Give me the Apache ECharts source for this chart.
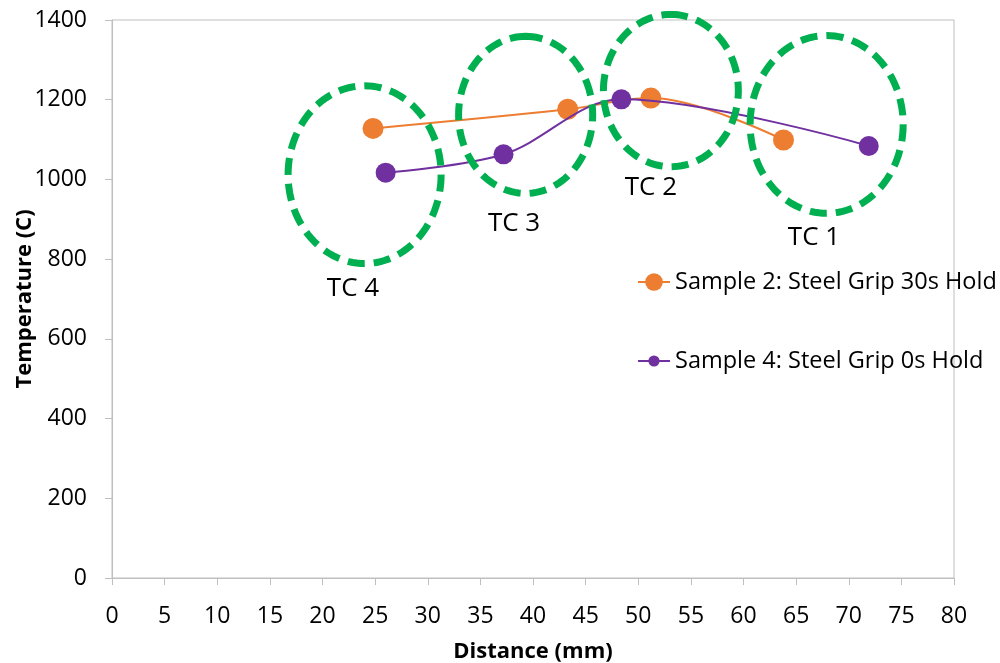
<!DOCTYPE html>
<html><head><meta charset="utf-8">
<script src="https://cdn.jsdelivr.net/npm/echarts@6/dist/echarts.min.js"></script>
<style>html,body{margin:0;padding:0;background:#fff}#c{width:1000px;height:663px}</style>
</head><body><div id="c"></div>
<script>
// ---- data ----
const seriesNames = ['Sample 2: Steel Grip 30s Hold', 'Sample 4: Steel Grip 0s Hold'];
const sample2X = [24.8, 43.3, 51.2, 63.8];
const sample2Y = [1128, 1176, 1204, 1099];
const sample4X = [26.0, 37.2, 48.4, 71.9];
const sample4Y = [1017, 1063, 1201, 1084];
const tcLabels = ['TC 4', 'TC 3', 'TC 2', 'TC 1'];
const tcCenterX = [24.0, 39.3, 53.1, 67.9];
const tcCenterY = [1012, 1162, 1223, 1138];
const tcRadiusX = [7.27, 6.37, 6.41, 7.27];
const tcRadiusY = [223, 197, 191, 223];
const tcLabelX = [22.9, 38.2, 51.2, 66.7];
const tcLabelY = [725, 888, 979, 853];
const xMin = 0, xMax = 80, xStep = 5;
const yMin = 0, yMax = 1400, yStep = 200;
const xName = 'Distance (mm)';
const yName = 'Temperature (C)';

const FONT = '"Open Sans", "Noto Sans", sans-serif';
const axisGray = '#BFBFBF';

const s2 = sample2X.map((x, i) => [x, sample2Y[i]]);
const s4 = sample4X.map((x, i) => [x, sample4Y[i]]);
const tcData = tcLabels.map((_, i) => [tcCenterX[i], tcCenterY[i], tcRadiusX[i], tcRadiusY[i], tcLabelX[i], tcLabelY[i]]);

const chart = echarts.init(document.getElementById('c'), null, {renderer: 'canvas'});
chart.setOption({
  animation: false,
  backgroundColor: '#fff',
  grid: {left: 112, right: 46, top: 20, bottom: 85, show: true, borderColor: axisGray, borderWidth: 1,
         containLabel: false, outerBoundsMode: 'none'},
  xAxis: {
    type: 'value', min: xMin, max: xMax, interval: xStep,
    name: xName, nameLocation: 'middle', nameGap: 63, nameMoveOverlap: false,
    nameTextStyle: {fontFamily: FONT, fontSize: 22, fontWeight: 'bold', color: '#000'},
    axisLine: {show: true, lineStyle: {color: axisGray, width: 1}},
    axisTick: {show: true, length: 7, lineStyle: {color: axisGray}},
    axisLabel: {fontFamily: FONT, fontSize: 23, color: '#000', margin: 27, formatter: v => String(v)},
    splitLine: {show: false}
  },
  yAxis: {
    type: 'value', min: yMin, max: yMax, interval: yStep,
    name: yName, nameLocation: 'middle', nameGap: 76, nameRotate: 90, nameMoveOverlap: false,
    nameTextStyle: {fontFamily: FONT, fontSize: 22, fontWeight: 'bold', color: '#000'},
    axisLine: {show: true, lineStyle: {color: axisGray, width: 1}},
    axisTick: {show: true, length: 7, lineStyle: {color: axisGray}},
    axisLabel: {fontFamily: FONT, fontSize: 23, color: '#000', margin: 25, formatter: v => String(v)},
    splitLine: {show: false}
  },
  legend: [
    {data: [seriesNames[0]], left: 632, top: 265, itemWidth: 32, itemHeight: 22, itemGap: 0,
     textStyle: {fontFamily: FONT, fontSize: 23.5, color: '#000'}},
    {data: [seriesNames[1]], left: 632, top: 344, itemWidth: 32, itemHeight: 14, itemGap: 0,
     textStyle: {fontFamily: FONT, fontSize: 23.5, color: '#000'}}
  ],
  series: [
    {name: seriesNames[0], type: 'line', data: s2, smooth: 0.35, symbol: 'circle', symbolSize: 21,
     itemStyle: {color: '#ED7D31'}, lineStyle: {color: '#ED7D31', width: 2}, z: 3},
    {name: seriesNames[1], type: 'line', data: s4, smooth: 0.35, symbol: 'circle', symbolSize: 20,
     itemStyle: {color: '#7030A0'}, lineStyle: {color: '#7030A0', width: 2}, z: 4},
    {name: 'TC', type: 'custom', data: tcData, z: 5, clip: false,
     encode: {x: 0, y: 1},
     renderItem: function (params, api) {
       const c = api.coord([api.value(0), api.value(1)]);
       const s = api.size([api.value(2), api.value(3)]);
       const pts = [];
       const N = 120;
       for (let k = 0; k < N; k++) {
         const t = -Math.PI / 2 + k / N * 2 * Math.PI;
         pts.push([c[0] + s[0] * Math.cos(t), c[1] + s[1] * Math.sin(t)]);
       }
       const l = api.coord([api.value(4), api.value(5)]);
       return {type: 'group', children: [
         {type: 'polygon', shape: {points: pts},
          style: {fill: 'none', stroke: '#00B050', lineWidth: 7, lineDash: [17, 9]}},
         {type: 'text', x: l[0], y: l[1],
          style: {text: tcLabels[params.dataIndex], fill: '#000', font: '26px ' + FONT,
                  align: 'center', verticalAlign: 'middle'}}
       ]};
     }}
  ]
});
</script></body></html>
